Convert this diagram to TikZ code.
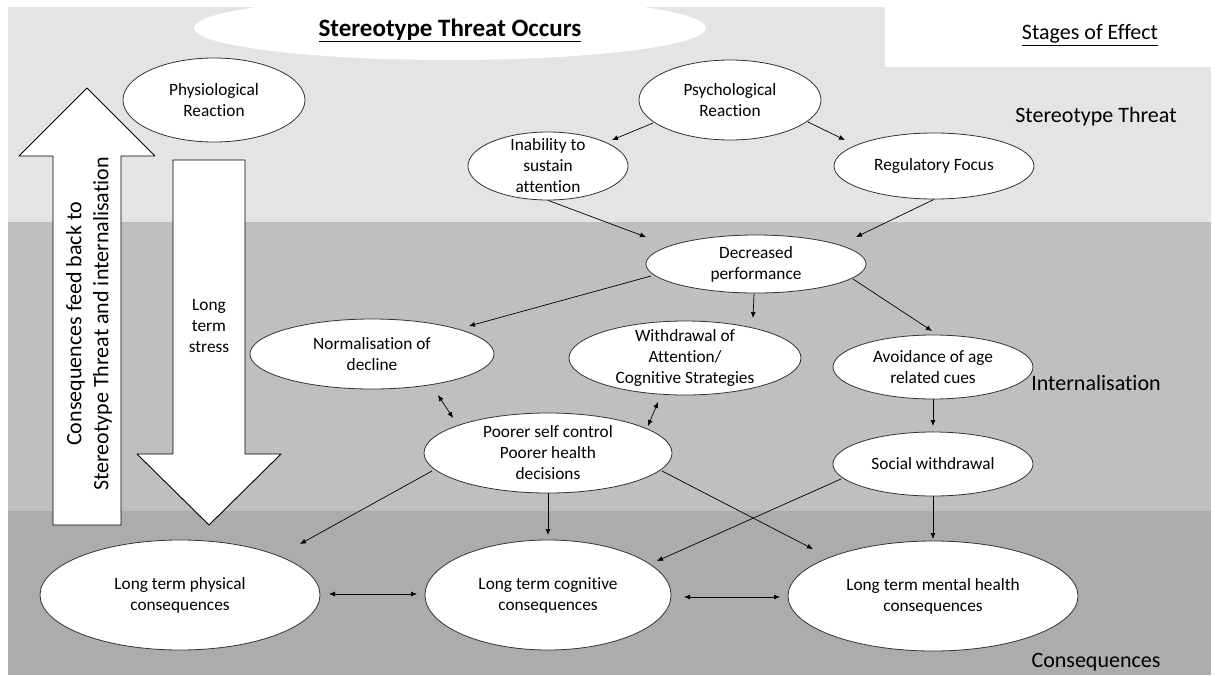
\documentclass[tikz,border=0pt]{standalone}
\usepackage{fontspec}
\setmainfont{Carlito}[Ligatures=NoCommon]
\usepackage{tikz}
\usetikzlibrary{shapes,arrows.meta}
\newcommand{\bubfont}{\fontsize{17.3}{21}\selectfont}
\newcommand{\stagefont}{\fontsize{22}{27}\selectfont}
\tikzstyle{every path}=[line width=0.8pt,line join=round]
\tikzstyle{bubble}=[ellipse,draw=black!80,fill=white,inner xsep=0pt,inner ysep=-8pt,align=center,font=\bubfont]
\tikzstyle{arr}=[-{Latex[length=6pt,width=5pt]},line width=0.7pt]
\tikzstyle{dblarr}=[{Latex[length=6pt,width=5pt]}-{Latex[length=6pt,width=5pt]},line width=0.7pt]
\tikzstyle{stage}=[font=\stagefont,anchor=center]
\tikzstyle{blockarrow}=[draw=black,fill=white,line width=0.9pt]

\begin{document}
\begin{tikzpicture}[x=1pt,y=-1pt]
\definecolor{bandtop}{RGB}{228,228,228}
\definecolor{bandmid}{RGB}{191,191,191}
\definecolor{bandlow}{RGB}{174,171,171}
\useasboundingbox (0,0) rectangle (1216,675);
\fill[bandtop] (8,7) rectangle (1211,222);
\fill[white] (885,0) rectangle (1216,67);
\fill[bandmid] (8,222) rectangle (1211,511);
\fill[bandlow] (8,511) rectangle (1211,675);

\node[ellipse,fill=white,minimum width=512,minimum height=64,inner sep=0pt,text height=20pt,text depth=4pt,font=\fontsize{25}{30}\selectfont\bfseries] (occurs) at (450,28) {\underline{Stereotype Threat Occurs}};

\node[stage] (effect) at (1090,35) {\underline{Stages of Effect}};
\node[stage] (threat) at (1096,117) {Stereotype Threat};
\node[stage] (intern) at (1096,383) {Internalisation};
\node[stage] (conseq) at (1096,662) {Consequences};

\draw[blockarrow] (53,525) -- (53,156) -- (19,156) -- (87,88) -- (155,156) -- (121,156) -- (121,525) -- cycle;
\draw[blockarrow] (173,160) -- (245,160) -- (245,454) -- (281,454) -- (209,525) -- (137,454) -- (173,454) -- cycle;
\node[rotate=90,align=center,font=\stagefont] (feedback) at (89,324) {Consequences feed back to\\Stereotype Threat and internalisation};
\node[align=center,font=\bubfont] (stress) at (209,326) {Long\\term\\stress};

\node[bubble,minimum width=182,minimum height=84] (physio) at (214,100) {Physiological\\Reaction};
\node[bubble,minimum width=182,minimum height=80] (psycho) at (730,100) {Psychological\\Reaction};
\node[bubble,minimum width=160,minimum height=68] (inab) at (548,166) {Inability to\\sustain\\attention};
\node[bubble,minimum width=200,minimum height=66] (regfoc) at (934,166) {Regulatory Focus};
\node[bubble,minimum width=220,minimum height=58] (decperf) at (756,264) {Decreased\\performance};
\node[bubble,minimum width=244,minimum height=70] (normal) at (372,354) {Normalisation of\\decline};
\node[bubble,minimum width=232,minimum height=74] (withdr) at (685,358) {Withdrawal of\\Attention/\\Cognitive Strategies};
\node[bubble,minimum width=200,minimum height=64] (avoid) at (933,367) {Avoidance of age\\related cues};
\node[bubble,minimum width=248,minimum height=80] (poorer) at (548,453) {Poorer self control\\Poorer health\\decisions};
\node[bubble,minimum width=200,minimum height=64] (socwd) at (933,464) {Social withdrawal};
\node[bubble,minimum width=280,minimum height=110] (ltphys) at (180,595) {Long term physical\\consequences};
\node[bubble,minimum width=246,minimum height=110] (ltcog) at (548,595) {Long term cognitive\\consequences};
\node[bubble,minimum width=290,minimum height=110] (ltment) at (933,596) {Long term mental health\\consequences};

\draw[arr] ([shift={(-77,23)}]psycho.center) -- ([shift={(64,-26)}]inab.center);
\draw[arr] ([shift={(78,22)}]psycho.center) -- ([shift={(-89,-26)}]regfoc.center);
\draw[arr] (inab.south) -- ([shift={(-110,-27)}]decperf.center);
\draw[arr] (regfoc.south) -- ([shift={(100,-27)}]decperf.center);
\draw[arr] ([shift={(-105,12)}]decperf.center) -- ([shift={(97,-28)}]normal.center);
\draw[arr] ([shift={(-2,30)}]decperf.center) -- ([shift={(68,-40)}]withdr.center);
\draw[arr] ([shift={(97,15)}]decperf.center) -- ([shift={(-1,-36)}]avoid.center);
\draw[dblarr] ([shift={(66,41)}]normal.center) -- ([shift={(-95,-35)}]poorer.center);
\draw[dblarr] ([shift={(-27,44)}]withdr.center) -- ([shift={(100,-27)}]poorer.center);
\draw[arr] (avoid.south) -- ([shift={(0,-38)}]socwd.center);
\draw[arr] ([shift={(-116,18)}]poorer.center) -- ([shift={(120,-51)}]ltphys.center);
\draw[arr] (poorer.south) -- ([shift={(0,-60)}]ltcog.center);
\draw[arr] ([shift={(114,18)}]poorer.center) -- ([shift={(-120,-47)}]ltment.center);
\draw[arr] ([shift={(-92,15)}]socwd.center) -- ([shift={(109,-34)}]ltcog.center);
\draw[arr] (socwd.south) -- ([shift={(0,-57)}]ltment.center);
\draw[dblarr] ([shift={(149,-1)}]ltphys.center) -- ([shift={(-131,-1)}]ltcog.center);
\draw[dblarr] ([shift={(136,2)}]ltcog.center) -- ([shift={(-153,1)}]ltment.center);
\end{tikzpicture}
\end{document}
